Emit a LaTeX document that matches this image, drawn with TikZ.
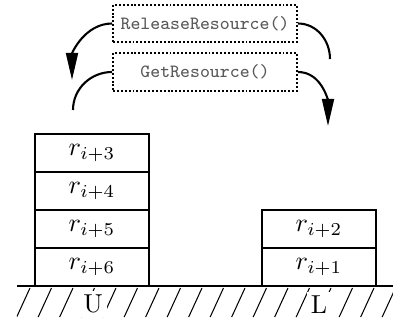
\documentclass[tikz,border=0pt]{standalone}
\usepackage{fontspec}
\usetikzlibrary{arrows.meta}
\tikzset{
  resbox/.style={draw, line width=0.8pt, minimum width=43.9pt, minimum height=14.6pt, inner sep=0pt},
  callbox/.style={draw, line width=0.75pt, dash pattern=on 0.75pt off 0.75pt, minimum width=70.8pt, minimum height=14.4pt, inner sep=0pt, text=black!65, font=\ttfamily\fontsize{7.2}{8}\selectfont},
  flow/.style={line width=0.8pt},
  flowarr/.style={line width=0.8pt, -{Triangle[length=10.4pt, width=4.6pt]}},
  hatch/.style={line width=0.4pt},
  ground/.style={line width=0.8pt},
  gl/.style={fill=white, inner sep=1.5pt}
}
\begin{document}
\begin{tikzpicture}[x=0.385pt, y=-0.385pt]
\useasboundingbox (0,0) rectangle (393,327);
% hatching
\begin{scope}
\clip (17,287) rectangle (393,320);
\foreach \k in {0,...,18} {
  \draw[hatch] ({16.7+21.5*\k},317) -- ({30+21.5*\k},288);
}
\end{scope}
\draw[ground] (17,286) -- (393,286);
\node[gl] (U) at (93,304) {U};
\node[gl] (L) at (319,305) {L};
% left stack
\node[resbox] (u6) at (92,267.3) {$r_{i+6}$};
\node[resbox] (u5) at (92,229.3) {$r_{i+5}$};
\node[resbox] (u4) at (92,191.3) {$r_{i+4}$};
\node[resbox] (u3) at (92,153.3) {$r_{i+3}$};
% right stack
\node[resbox] (l1) at (319,267.3) {$r_{i+1}$};
\node[resbox] (l2) at (319,229.3) {$r_{i+2}$};
% call boxes
\node[callbox] (rel) at (205,23.5) {ReleaseResource()};
\node[callbox] (get) at (205,72) {GetResource()};
% connectors
\coordinate (a1) at (72,80);
\coordinate (a2) at (73,110);
\coordinate (a3) at (330,59);
\coordinate (a4) at (328,126);
\draw[flowarr] (rel.west) to[out=180, in=90] (a1);
\draw[flow] (get.west) to[out=180, in=90] (a2);
\draw[flow] (rel.east) to[out=0, in=90] (a3);
\draw[flowarr] (get.east) to[out=0, in=90] (a4);
\end{tikzpicture}
\end{document}
